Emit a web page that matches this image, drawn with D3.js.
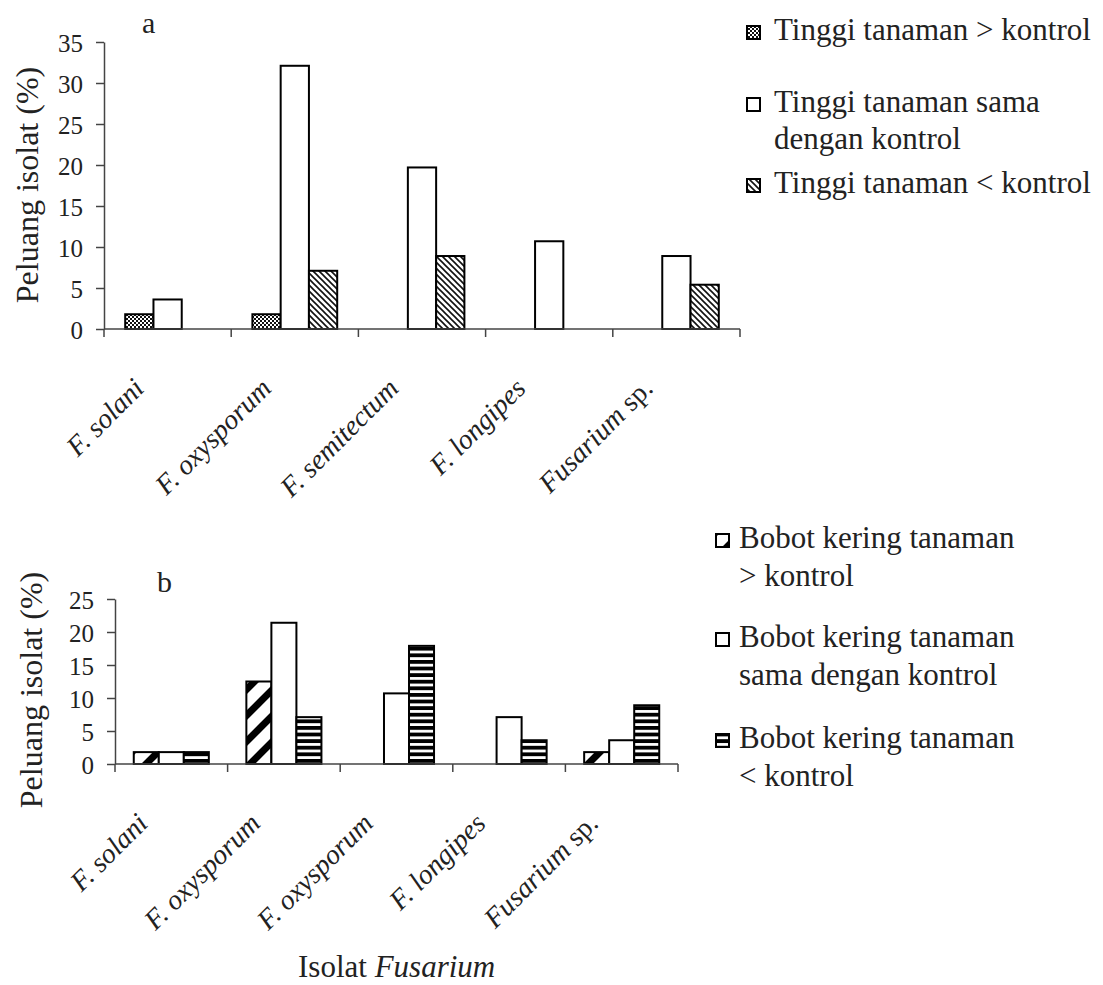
<!DOCTYPE html>
<html>
<head>
<meta charset="utf-8">
<script src="https://cdn.jsdelivr.net/npm/d3@7"></script>
<style>
  body { margin: 0; background: #fff; }
  svg { font-family: "Liberation Serif", "Times New Roman", serif; fill: #222; }
  .tick text { font-size: 25px; fill: #222; font-family: "Liberation Serif", serif; }
</style>
</head>
<body>
<svg id="chart" width="1103" height="985"></svg>
<script>
// ---- data (percent of isolates) ----
const categoriesA = ["F. solani", "F. oxysporum", "F. semitectum", "F. longipes", "Fusarium sp."];
const tallerA = [1.8, 1.8, 0, 0, 0];
const sameA = [3.6, 32.1, 19.7, 10.7, 8.9];
const shorterA = [0, 7.1, 8.9, 0, 5.4];
const legendA = [
  ["Tinggi tanaman > kontrol"],
  ["Tinggi tanaman sama", "dengan kontrol"],
  ["Tinggi tanaman < kontrol"]
];
const ticksA = [0, 5, 10, 15, 20, 25, 30, 35];

const categoriesB = ["F. solani", "F. oxysporum", "F. oxysporum", "F. longipes", "Fusarium sp."];
const heavierB = [1.8, 12.5, 0, 0, 1.8];
const sameB = [1.8, 21.4, 10.7, 7.1, 3.6];
const lighterB = [1.8, 7.1, 17.9, 3.6, 8.9];
const legendB = [
  ["Bobot kering tanaman", "> kontrol"],
  ["Bobot kering tanaman", "sama dengan kontrol"],
  ["Bobot kering tanaman", "< kontrol"]
];
const ticksB = [0, 5, 10, 15, 20, 25];

var svg = d3.select("#chart");
var defs = svg.append("defs");

// fill patterns
var p = defs.append("pattern").attr("id", "dots").attr("patternUnits", "userSpaceOnUse")
  .attr("width", 4).attr("height", 4);
p.append("rect").attr("width", 4).attr("height", 4).attr("fill", "#fff");
p.append("rect").attr("width", 2).attr("height", 2).attr("fill", "#111");
p.append("rect").attr("x", 2).attr("y", 2).attr("width", 2).attr("height", 2).attr("fill", "#111");

p = defs.append("pattern").attr("id", "diagDown").attr("patternUnits", "userSpaceOnUse")
  .attr("width", 6).attr("height", 6);
p.append("rect").attr("width", 6).attr("height", 6).attr("fill", "#fff");
p.append("path").attr("d", "M-1,-1L7,7M-1,5L1,7M5,-1L7,1").attr("stroke", "#111").attr("stroke-width", 1.6);

p = defs.append("pattern").attr("id", "bigDiag").attr("patternUnits", "userSpaceOnUse")
  .attr("width", 26).attr("height", 26);
p.append("rect").attr("width", 26).attr("height", 26).attr("fill", "#fff");
p.append("path").attr("d", "M-3,29L29,-3M-3,3L3,-3M23,29L29,23")
  .attr("stroke", "#000").attr("stroke-width", 7);

p = defs.append("pattern").attr("id", "hstripe").attr("patternUnits", "userSpaceOnUse")
  .attr("width", 8).attr("height", 6.6);
p.append("rect").attr("width", 8).attr("height", 6.6).attr("fill", "#fff");
p.append("rect").attr("y", 0).attr("width", 8).attr("height", 3.8).attr("fill", "#000");

function drawPanel(opt) {
  var x0 = d3.scaleBand().domain(d3.range(opt.categories.length))
    .range([opt.left, opt.right]).padding(0);
  var x1 = d3.scaleBand().domain([0, 1, 2]).range([0, x0.bandwidth()])
    .paddingInner(0).paddingOuter(0.75);
  var y = d3.scaleLinear().domain([0, d3.max(opt.ticks)]).range([opt.bottom, opt.top]);

  var g = svg.append("g");

  // bars (zero values are not drawn)
  opt.series.forEach(function (s, si) {
    var rows = s.values.map(function (v, i) { return { cat: i, value: v }; })
      .filter(function (d) { return d.value > 0; });
    g.append("g").selectAll("rect")
      .data(rows)
      .join("rect")
      .attr("x", function (d) { return x0(d.cat) + x1(si); })
      .attr("y", function (d) { return y(d.value); })
      .attr("width", x1.bandwidth())
      .attr("height", function (d) { return y(0) - y(d.value); })
      .attr("fill", s.fill)
      .attr("stroke", "#000")
      .attr("stroke-width", 2);
  });

  // y axis
  var ya = g.append("g").attr("transform", "translate(" + opt.left + ",0)")
    .call(d3.axisLeft(y).tickValues(opt.ticks).tickSize(8).tickPadding(13).tickSizeOuter(0));
  ya.attr("font-family", null);
  ya.select(".domain").attr("stroke", "#444").attr("stroke-width", 1.5);
  ya.selectAll(".tick line").attr("stroke", "#444").attr("stroke-width", 1.5);
  ya.selectAll(".tick text").attr("dy", "0.36em");

  // x axis with ticks on category boundaries
  g.append("line").attr("x1", opt.left).attr("x2", opt.right)
    .attr("y1", y(0)).attr("y2", y(0)).attr("stroke", "#444").attr("stroke-width", 1.5);
  var bounds = opt.categories.map(function (c, i) { return x0(i); }).concat([opt.right]);
  g.append("g").selectAll("line").data(bounds).join("line")
    .attr("x1", function (d) { return d; }).attr("x2", function (d) { return d; })
    .attr("y1", y(0)).attr("y2", y(0) + 8)
    .attr("stroke", "#444").attr("stroke-width", 1.5);

  // rotated category labels
  g.append("g").selectAll("text").data(opt.categories).join("text")
    .attr("transform", function (d, i) {
      var cx = x0(i) + x0.bandwidth() / 2;
      return "translate(" + (cx - 22) + "," + (y(0) + opt.labelDrop) + ") rotate(-45)";
    })
    .attr("text-anchor", "end")
    .style("font-size", "28px")
    .each(function (d) {
      var t = d3.select(this);
      if (d.indexOf("F. ") === 0) {
        t.append("tspan").attr("font-style", "italic").text(d);
      } else {
        var parts = d.split(" ");
        t.append("tspan").attr("font-style", "italic").text(parts[0]);
        t.append("tspan").text(" " + parts[1]);
      }
    });

  // panel letter
  svg.append("text").attr("x", opt.letterX).attr("y", opt.letterY)
    .style("font-size", "30px").text(opt.letter);

  // y title
  svg.append("text")
    .attr("transform", "translate(" + opt.titleX + "," + opt.titleY + ") rotate(-90)")
    .attr("text-anchor", "middle").style("font-size", "32px")
    .text("Peluang isolat (%)");

  // legend
  opt.legend.forEach(function (lines, i) {
    var ly = opt.legendY[i];
    svg.append("rect").attr("x", opt.legendX).attr("y", ly - 14)
      .attr("width", 13).attr("height", 13)
      .attr("fill", opt.series[i].fill).attr("stroke", "#000").attr("stroke-width", 2);
    lines.forEach(function (line, j) {
      svg.append("text").attr("x", opt.legendTextX).attr("y", ly + j * opt.lineGap)
        .style("font-size", "31px").text(line);
    });
  });
}

drawPanel({
  categories: categoriesA,
  series: [
    { values: tallerA, fill: "url(#dots)" },
    { values: sameA, fill: "#fff" },
    { values: shorterA, fill: "url(#diagDown)" }
  ],
  ticks: ticksA,
  left: 104, right: 740, top: 42, bottom: 329,
  labelDrop: 61,
  letter: "a", letterX: 142, letterY: 33,
  titleX: 38, titleY: 185,
  legend: legendA,
  legendX: 747, legendTextX: 774, legendY: [40, 112, 193], lineGap: 37
});

drawPanel({
  categories: categoriesB,
  series: [
    { values: heavierB, fill: "url(#bigDiag)" },
    { values: sameB, fill: "#fff" },
    { values: lighterB, fill: "url(#hstripe)" }
  ],
  ticks: ticksB,
  left: 115, right: 678, top: 599, bottom: 764,
  labelDrop: 61,
  letter: "b", letterX: 157, letterY: 592,
  titleX: 42, titleY: 690,
  legend: legendB,
  legendX: 716, legendTextX: 739, legendY: [548, 647, 748], lineGap: 38
});

// shared x title
svg.append("text").attr("x", 298).attr("y", 977).style("font-size", "31px")
  .call(function (t) {
    t.append("tspan").text("Isolat ");
    t.append("tspan").attr("font-style", "italic").text("Fusarium");
  });
</script>
</body>
</html>
